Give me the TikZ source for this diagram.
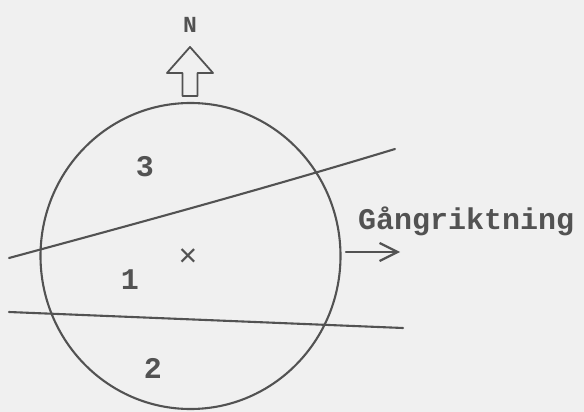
\documentclass[tikz,border=0pt]{standalone}
\usepackage{fontspec}
\usetikzlibrary{arrows.meta}
\newfontfamily\monofont{Liberation Mono}
\definecolor{ink}{RGB}{82,82,82}
\definecolor{paper}{RGB}{240,240,240}

\begin{document}
\begin{tikzpicture}[x=1pt,y=-1pt,line cap=round,line join=round,
  >={Straight Barb[length=18pt,width=18pt]},
  every node/.style={inner sep=1pt,text=ink},
  lbl/.style={font=\monofont\bfseries\fontsize{30}{30}\selectfont},
  cut/.style={draw=ink,line width=2.1pt}]
  \def\cx{190.5}
  \def\cy{256}
  \fill[paper] (0,0) rectangle (584,412);
  \useasboundingbox (0,0) rectangle (584,412);
  % the circle and the two lines
  \draw[cut] (\cx,\cy) ellipse [x radius=150,y radius=153];
  \coordinate (upL) at (9,258);
  \coordinate (upR) at (395,149);
  \coordinate (loL) at (9,312);
  \coordinate (loR) at (403,328);
  \draw[cut] (upL) .. controls (120,228) and (260,190) .. (upR);
  \draw[cut] (loL) -- (loR);
  % north arrow
  \draw[cut,line width=1.8pt] (182.5,96) -- (182.5,73) -- (167,73) -- (190,47)
    -- (213,73) -- (197.5,73) -- (197.5,96) -- cycle;
  \node[lbl,font=\monofont\bfseries\fontsize{23}{23}\selectfont] (north) at (190,25) {N};
  % areas
  \node[lbl] (a3) at (145,167) {3};
  \node[lbl] (a1) at (130,280) {1};
  \node[lbl] (a2) at (153,368) {2};
  \node[lbl,font=\monofont\fontsize{32}{32}\selectfont] (mid) at (188,258) {×};
  % walking direction
  \node[lbl,anchor=west] (gang) at (357,221) {Gångriktning};
  \coordinate (dirA) at (346,252);
  \coordinate (dirB) at (400,252);
  \draw[->,draw=ink,line width=2.2pt] (dirA) -- (dirB);
\end{tikzpicture}
\end{document}
